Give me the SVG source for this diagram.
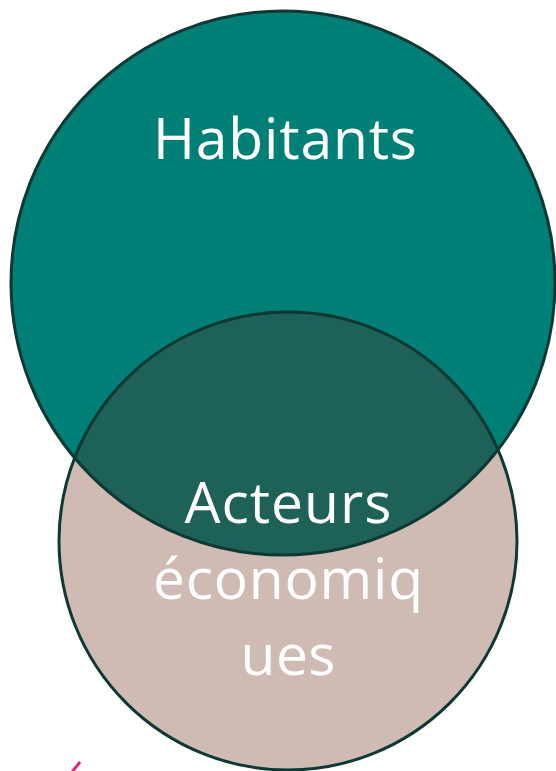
<svg xmlns="http://www.w3.org/2000/svg" width="556" height="771" viewBox="0 0 556 771">
<style>
.lbl{font-family:"Open Sans","Liberation Sans",Arial,sans-serif;fill:#ffffff;text-anchor:middle;font-size:57px}
.edge{fill:none;stroke:#0d3833;stroke-width:3}
</style>
<defs>
<clipPath id="clipBig"><circle cx="283" cy="283" r="272"/></clipPath>
</defs>
<rect width="556" height="771" fill="#ffffff"/>
<g id="node-habitants">
<circle cx="283" cy="283" r="272" fill="#007f77"/>
</g>
<g id="node-acteurs">
<circle cx="288" cy="541" r="229" fill="#cfbab4"/>
<circle cx="288" cy="541" r="229" fill="#1e6156" clip-path="url(#clipBig)"/>
</g>
<g id="connectors">
<circle class="edge" cx="288" cy="541" r="229"/>
<circle class="edge" cx="283" cy="283" r="272" stroke="#152c26"/>
</g>
<g id="labels">
<text class="lbl" x="285" y="159" textLength="264" lengthAdjust="spacing">Habitants</text>
<text class="lbl" x="288" y="523" textLength="207" lengthAdjust="spacing">Acteurs</text>
<text class="lbl" x="288" y="599" textLength="270" lengthAdjust="spacing">économiq</text>
<text class="lbl" x="288" y="675" textLength="95" lengthAdjust="spacing">ues</text>
</g>
<line x1="80" y1="762" x2="72" y2="772" stroke="#e8237d" stroke-width="3"/>
</svg>
